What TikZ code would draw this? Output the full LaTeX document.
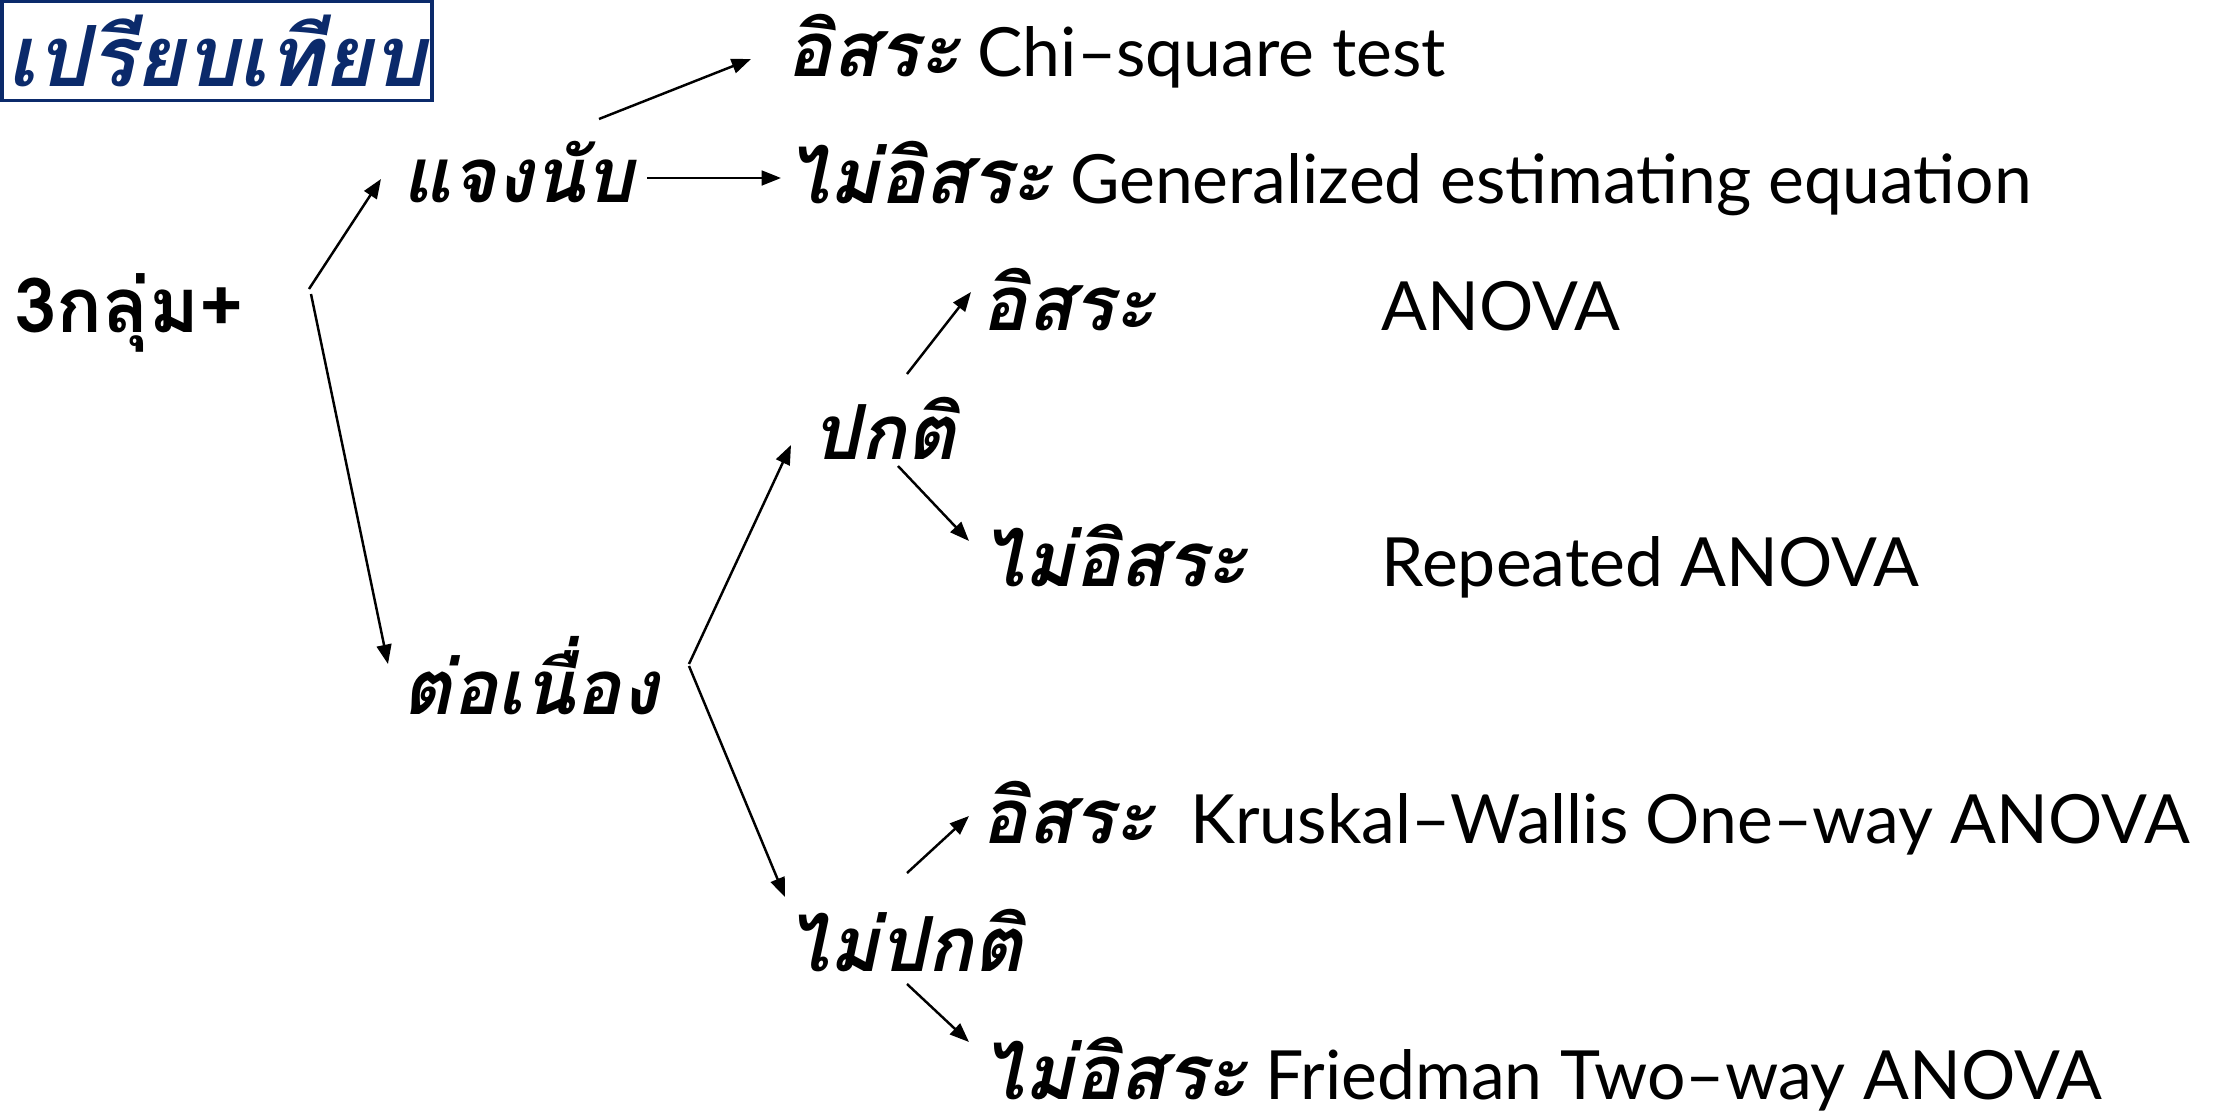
\documentclass[tikz,border=0pt]{standalone}
\usepackage{fontspec}
\setmainfont{Lato}
\newfontfamily\thaifont[Script=Thai]{Loma}
\usetikzlibrary{
    arrows.meta,
    calc,
    positioning
}
\definecolor{navy}{HTML}{0B2A6B}
\newcommand{\thb}[1]{{\thaifont\bfseries\itshape\fontsize{21.6}{24}\selectfont #1}}
\tikzset{
    thnode/.style={font=\thaifont\bfseries\itshape\fontsize{21.6}{24}\selectfont, anchor=base west, inner sep=0pt},
    mixnode/.style={font=\fontsize{19.3}{22}\selectfont, anchor=base west, inner sep=0pt},
    titlebox/.style={draw=navy, line width=1.1pt, text=navy, minimum width=4.30cm, minimum height=0.99cm, inner sep=0pt,
        font=\thaifont\bfseries\itshape\fontsize{24}{26}\selectfont},
    arr/.style={-{Triangle[length=5.5pt,width=4.2pt]}, line width=0.7pt}
}

\begin{document}
\begin{tikzpicture}[x=0.01cm, y=-0.01cm]
    \useasboundingbox (0, 0) rectangle (2214, 1112);
    \node[titlebox] (ttl) at (217, 51) {เปรียบเทียบ};
    % levels
    \node[thnode, font=\thaifont\bfseries\fontsize{21.6}{24}\selectfont] (grp) at (14, 332) {3กลุ่ม+};
    \node[thnode] (cnt) at (402, 202) {แจงนับ};
    \node[thnode] (cont) at (402, 714) {ต่อเนื่อง};
    \node[mixnode] (ind1) at (786, 76) {\thb{อิสระ} Chi--square test};
    \node[mixnode] (dep1) at (786, 203) {\thb{ไม่อิสระ} Generalized estimating equation};
    \node[thnode] (norm) at (812, 459) {ปกติ};
    \node[thnode] (ind2) at (981, 330) {อิสระ};
    \node[mixnode] (anova) at (1381, 330) {ANOVA};
    \node[thnode] (dep2) at (981, 586) {ไม่อิสระ};
    \node[mixnode] (rep) at (1381, 586) {Repeated ANOVA};
    \node[thnode] (nonn) at (786, 971) {ไม่ปกติ};
    \node[mixnode] (ind3) at (981, 843) {\thb{อิสระ}\ \ Kruskal--Wallis One--way ANOVA};
    \node[mixnode] (dep3) at (981, 1099) {\thb{ไม่อิสระ} Friedman Two--way ANOVA};
    % arrows
    \draw
    ($(grp.base west)+(295, -43)$) edge[arr] ($(cnt.base west)+(-21, -23)$)
    ($(grp.base west)+(297, -38)$) edge[arr] ($(cont.base west)+(-14, -50)$)
    ($(cnt.base west)+(197, -83)$) edge[arr] ($(ind1.base west)+(-35, -17)$)
    ($(cnt.base west)+(245, -24)$) edge[arr] ($(dep1.base west)+(-5, -25)$)
    ($(cont.base west)+(287, -50)$) edge[arr] ($(norm.base west)+(-21, -14)$)
    ($(cont.base west)+(287, -48)$) edge[arr] ($(nonn.base west)+(-1, -74)$)
    ($(norm.base west)+(95, -85)$) edge[arr] ($(ind2.base west)+(-10, -38)$)
    ($(norm.base west)+(86, 7)$) edge[arr] ($(dep2.base west)+(-12, -45)$)
    ($(nonn.base west)+(121, -98)$) edge[arr] ($(ind3.base west)+(-12, -27)$)
    ($(nonn.base west)+(121, 13)$) edge[arr] ($(dep3.base west)+(-12, -57)$);
\end{tikzpicture}
\end{document}
